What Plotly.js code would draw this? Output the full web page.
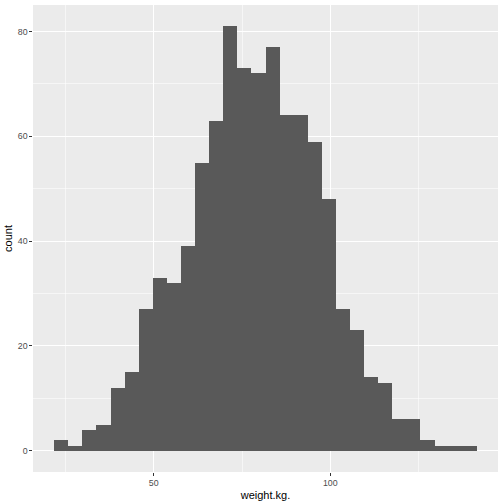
<!DOCTYPE html>
<html>
<head>
<meta charset="utf-8">
<script src="https://cdn.plot.ly/plotly-3.0.1.min.js"></script>
<style>html,body{margin:0;padding:0;background:#fff;}#chart{width:504px;height:504px;}</style>
</head>
<body>
<div id="chart"></div>
<script>
// Histogram of weight.kg. (30 bins, width ~3.99)
const binCenters = [23.80, 27.79, 31.78, 35.77, 39.76, 43.75, 47.74, 51.73, 55.72, 59.71,
                    63.70, 67.69, 71.68, 75.67, 79.66, 83.65, 87.64, 91.63, 95.62, 99.61,
                    103.60, 107.59, 111.58, 115.57, 119.56, 123.55, 127.54, 131.53, 135.52, 139.51];
const binWidth = 3.99;
const counts = [2, 1, 4, 5, 12, 15, 27, 33, 32, 39,
                55, 63, 81, 73, 72, 77, 64, 64, 59, 48,
                27, 23, 14, 13, 6, 6, 2, 1, 1, 1];
const xTickVals = [50, 100];
const xTickText = ['50', '100'];
const yTickVals = [0, 20, 40, 60, 80];
const yTickText = ['0', '20', '40', '60', '80'];

const trace = {
  type: 'bar',
  x: binCenters,
  y: counts,
  width: binCenters.map(() => binWidth),
  marker: {color: '#595959', line: {width: 0}},
  hoverinfo: 'x+y'
};

const tickFont = {family: 'Liberation Sans, Arial, sans-serif', size: 8.8, color: '#4D4D4D'};
const titleFont = {family: 'Liberation Sans, Arial, sans-serif', size: 11, color: '#000000'};

const layout = {
  width: 504, height: 504,
  margin: {l: 33.3, r: 5.7, t: 5, b: 31.7, pad: 0},
  paper_bgcolor: '#FFFFFF',
  plot_bgcolor: '#EBEBEB',
  bargap: 0,
  showlegend: false,
  xaxis: {
    range: [15.8, 147.5],
    tickmode: 'array', tickvals: xTickVals, ticktext: xTickText,
    ticks: 'outside', ticklen: 2.7, tickwidth: 1.07, tickcolor: '#333333',
    tickfont: tickFont,
    showgrid: true, gridcolor: '#FFFFFF', gridwidth: 1.07,
    minor: {tickmode: 'array', tickvals: [25, 75, 125], showgrid: true, gridcolor: '#FFFFFF', gridwidth: 0.53, ticks: ''},
    zeroline: false, showline: false,
    title: {text: 'weight.kg.', font: titleFont, standoff: 4}
  },
  yaxis: {
    range: [-4.05, 85.05],
    tickmode: 'array', tickvals: yTickVals, ticktext: yTickText,
    ticks: 'outside', ticklen: 2.7, tickwidth: 1.07, tickcolor: '#333333',
    tickfont: tickFont,
    showgrid: true, gridcolor: '#FFFFFF', gridwidth: 1.07,
    minor: {tickmode: 'array', tickvals: [10, 30, 50, 70], showgrid: true, gridcolor: '#FFFFFF', gridwidth: 0.53, ticks: ''},
    zeroline: false, showline: false,
    title: {text: 'count', font: titleFont, standoff: 2}
  }
};

Plotly.newPlot('chart', [trace], layout, {displayModeBar: false, staticPlot: true});
</script>
</body>
</html>
